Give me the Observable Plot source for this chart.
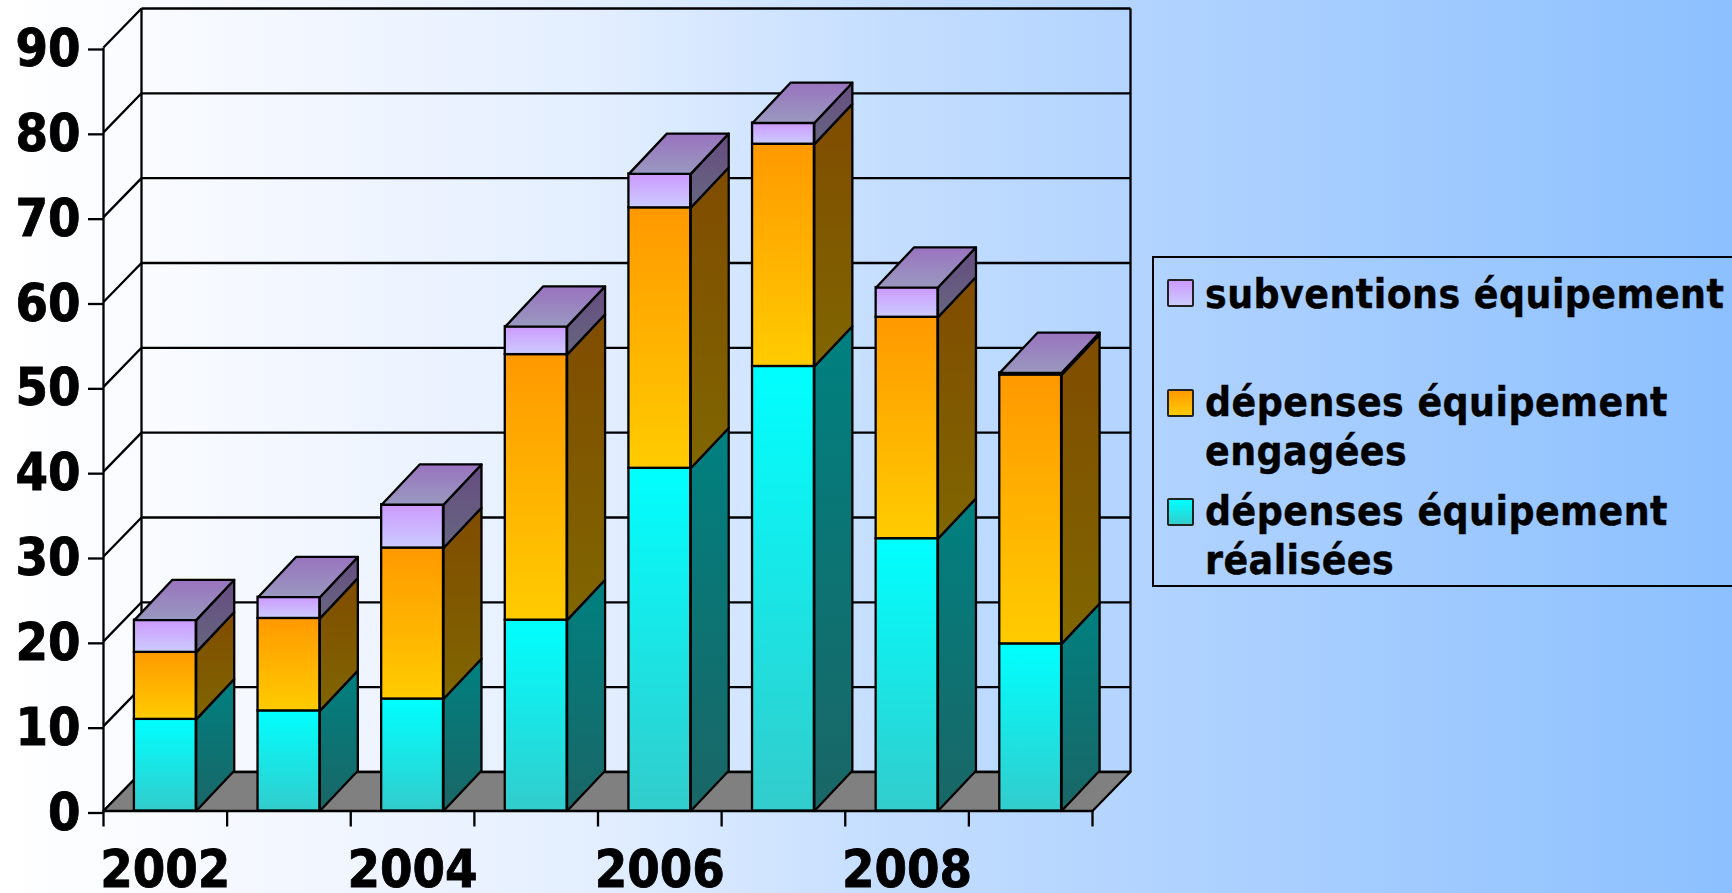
<!DOCTYPE html>
<html lang="fr">
<head>
<meta charset="utf-8">
<script src="https://cdn.jsdelivr.net/npm/d3@7"></script>
<script src="https://cdn.jsdelivr.net/npm/@observablehq/plot@0.6"></script>
<style>
html,body{margin:0;padding:0;width:1732px;height:893px;overflow:hidden;background:linear-gradient(to right,#ffffff 0%,#eef4ff 23%,#e2eeff 35%,#c3ddff 52%,#b1d3ff 67%,#8cc0ff 100%);}
#chart{position:absolute;left:0;top:0;}
#chart svg text{stroke:#000;stroke-width:.8px;}
#legend{position:absolute;left:1152px;top:256px;width:600px;height:327px;border:2px solid #000;}
.sw{position:absolute;left:1167px;width:23px;height:24px;border:2px solid #222;border-radius:2px;}
.lb{position:absolute;left:1205px;font:bold 40.5px/49px "DejaVu Sans Condensed","DejaVu Sans",sans-serif;font-stretch:condensed;letter-spacing:.45px;-webkit-text-stroke:.4px #000;color:#000;white-space:pre;}
</style>
</head>
<body>
<div id="chart"></div>
<script>
const years = [2002, 2003, 2004, 2005, 2006, 2007, 2008, 2009];
const realisees = [10.8, 11.8, 13.2, 22.5, 40.4, 52.4, 32.1, 19.7];
const engagees = [7.9, 10.9, 17.8, 31.3, 30.7, 26.2, 26.1, 31.7];
const subventions = [3.8, 2.5, 5.1, 3.3, 4.0, 2.5, 3.5, 0.25];
const yTicks = [0, 10, 20, 30, 40, 50, 60, 70, 80, 90];
const xLabelled = [2002, 2004, 2006, 2008];

const seriesInfo = [
  {key: "r", values: realisees, front: ["#00ffff", "#33cccc"], side: ["#008080", "#1a6666"]},
  {key: "e", values: engagees, front: ["#ff9900", "#ffcc00"], side: ["#804c00", "#806600"]},
  {key: "s", values: subventions, front: ["#cc99ff", "#ccccff"], side: ["#664c80", "#666680"]}
];
const topColors = ["#9973bf", "#9999bf"];
const legendEntries = [
  {label: "subventions équipement", colors: ["#cc99ff", "#ccccff"], swatchTop: 279, textTop: 270},
  {label: "dépenses équipement\nengagées", colors: ["#ff9900", "#ffcc00"], swatchTop: 389, textTop: 378},
  {label: "dépenses équipement\nréalisées", colors: ["#00ffff", "#33cccc"], swatchTop: 498, textTop: 487}
];

// depth of the 3D projection, in data units
const depthX = 0.3074, wallDepthY = 4.6, barDepthY = 4.75;
const halfBar = 0.25;
const n = years.length, yMax = 90;

// segments of the stack
const fronts = [], sides = [], tops = [];
years.forEach((year, i) => {
  let base = 0;
  const xl = i + 0.5 - halfBar, xr = i + 0.5 + halfBar;
  seriesInfo.forEach(s => {
    const lo = base, hi = base + s.values[i];
    base = hi;
    fronts.push({key: s.key, x1: xl, x2: xr, y1: lo, y2: hi});
    [[xr, lo], [xr + depthX, lo + barDepthY], [xr + depthX, hi + barDepthY], [xr, hi], [xr, lo]]
      .forEach(([x, y]) => sides.push({key: s.key, id: year, x, y}));
  });
  [[xl, base], [xl + depthX, base + barDepthY], [xr + depthX, base + barDepthY], [xr, base], [xl, base]]
    .forEach(([x, y]) => tops.push({id: year, x, y}));
});

const floor = [[0, 0], [depthX, wallDepthY], [n + depthX, wallDepthY], [n, 0], [0, 0]].map(([x, y]) => ({x, y}));

const defs = () => {
  const d = d3.create("svg:defs");
  const add = (id, [a, b]) => {
    const g = d.append("linearGradient").attr("id", id).attr("x1", 0).attr("x2", 0).attr("y1", 0).attr("y2", 1);
    g.append("stop").attr("offset", "0%").attr("stop-color", a);
    g.append("stop").attr("offset", "100%").attr("stop-color", b);
  };
  seriesInfo.forEach(s => { add("f" + s.key, s.front); add("d" + s.key, s.side); });
  add("top", topColors);
  return d.node();
};

const lw = 2.3;
const plot = Plot.plot({
  width: 1140, height: 893,
  marginLeft: 103, marginRight: 48, marginTop: 47, marginBottom: 82.5,
  x: {domain: [0, n], axis: null},
  y: {domain: [0, yMax], axis: null},
  style: {background: "transparent", fontFamily: '"DejaVu Sans Condensed","DejaVu Sans",sans-serif'},
  marks: [
    defs,
    // side wall diagonals
    Plot.link(yTicks, {x1: 0, y1: d => d, x2: depthX, y2: d => d + wallDepthY, stroke: "#000", strokeWidth: lw}),
    // back wall grid
    Plot.link(yTicks, {x1: depthX, y1: d => d + wallDepthY, x2: n + depthX, y2: d => d + wallDepthY, stroke: "#000", strokeWidth: lw}),
    // verticals
    Plot.link([0, depthX, n + depthX], {x1: d => d, x2: d => d, y1: d => d === 0 ? 0 : wallDepthY, y2: d => d === 0 ? yMax : yMax + wallDepthY, stroke: "#000", strokeWidth: lw}),
    // floor
    Plot.line(floor, {x: "x", y: "y", fill: "#808080", stroke: "#000", strokeWidth: lw}),
    // bars
    ...seriesInfo.flatMap(s => [
      Plot.line(sides.filter(d => d.key === s.key), {x: "x", y: "y", z: "id", fill: `url(#d${s.key})`, stroke: "#000", strokeWidth: lw}),
      Plot.rect(fronts.filter(d => d.key === s.key), {x1: "x1", x2: "x2", y1: "y1", y2: "y2", fill: `url(#f${s.key})`, stroke: "#000", strokeWidth: lw})
    ]),
    Plot.line(tops, {x: "x", y: "y", z: "id", fill: "url(#top)", stroke: "#000", strokeWidth: lw}),
    // axes
    Plot.axisY({ticks: yTicks, tickSize: 15, tickPadding: 8, fontSize: 52, fontWeight: 700, dy: 2, strokeWidth: lw, label: null, color: "#000"}),
    Plot.axisX({ticks: d3.range(0, n + 1), tickSize: 16, tickFormat: () => "", strokeWidth: lw, label: null}),
    Plot.axisX({ticks: xLabelled.map(y => years.indexOf(y) + 0.5), tickSize: 0, tickPadding: 39, tickFormat: t => String(years[Math.round(t - 0.5)]), fontSize: 52, fontWeight: 700, label: null})
  ]
});
document.getElementById("chart").appendChild(plot);

const legendBox = document.createElement("div");
legendBox.id = "legend";
document.body.appendChild(legendBox);
legendEntries.forEach(e => {
  const sw = document.createElement("div");
  sw.className = "sw";
  sw.style.top = e.swatchTop + "px";
  sw.style.background = `linear-gradient(${e.colors[0]},${e.colors[1]})`;
  document.body.appendChild(sw);
  const lb = document.createElement("div");
  lb.className = "lb";
  lb.style.top = e.textTop + "px";
  lb.textContent = e.label;
  document.body.appendChild(lb);
});
</script>
</body>
</html>
